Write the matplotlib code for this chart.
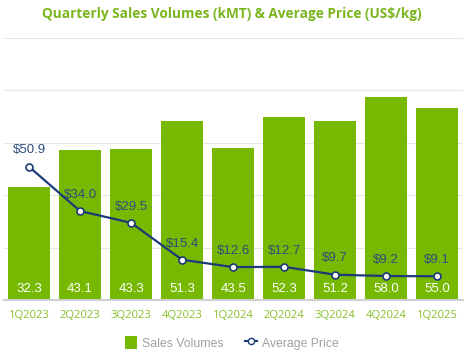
import matplotlib.pyplot as plt
from matplotlib.lines import Line2D
from matplotlib.patches import Patch

quarters = ["1Q2023", "2Q2023", "3Q2023", "4Q2023", "1Q2024",
            "2Q2024", "3Q2024", "4Q2024", "1Q2025"]
sales_volumes = [32.3, 43.1, 43.3, 51.3, 43.5, 52.3, 51.2, 58.0, 55.0]
average_price = [50.9, 34.0, 29.5, 15.4, 12.6, 12.7, 9.7, 9.2, 9.1]

verde = "#76b900"
azul = "#1d3a78"
cinza = "#a0a0a0"

fig = plt.figure(figsize=(4.73, 3.59), dpi=100)
ax = fig.add_axes([0.0074, 0.164, 0.971, 0.730])
ax2 = ax.twinx()

x = range(len(quarters))
ax.bar(x, sales_volumes, width=0.82, color=verde, zorder=2)
for i, v in enumerate(sales_volumes):
    ax.text(i, 3.2, f"{v:.1f}", ha="center", va="center", color="white",
            fontsize=9.5, family="Liberation Sans", zorder=3)

ax.set_xlim(-0.5, len(quarters) - 0.5)
ax.set_ylim(0, 75)
ax.set_yticks([0, 15, 30, 45, 60, 75])
ax.yaxis.grid(True, color="#e6e6e6", linewidth=0.8, zorder=0)
ax.set_axisbelow(True)
ax.tick_params(axis="y", left=False, labelleft=False)
ax.tick_params(axis="x", length=0, pad=7, labelsize=8.1, labelcolor="#86bf2a")
ax.set_xticks(list(x))
ax.set_xticklabels(quarters, family="Open Sans")
for s in ["top", "right", "left"]:
    ax.spines[s].set_visible(False)
ax.spines["bottom"].set_color("#cfcfcf")
ax.spines["bottom"].set_linewidth(1.5)

ax2.plot(x, average_price, color=azul, linewidth=1.6, marker="o",
         markersize=5, markerfacecolor="white", markeredgecolor=azul,
         markeredgewidth=1.2, zorder=4)
for i, p in enumerate(average_price):
    ax2.text(i, p + 6.2, f"${p:.1f}", ha="center", va="center", color="#2c4d7c",
             fontsize=9.5, family="Liberation Sans")
ax2.set_ylim(0, 100)
ax2.axis("off")

fig.text(0.49, 0.962, "Quarterly Sales Volumes (kMT) & Average Price (US$/kg)",
         ha="center", va="center", color="#7ab51d", fontsize=9.8,
         fontweight="bold", family="Open Sans")

# legenda
handles = [Patch(facecolor=verde, edgecolor="none"),
           Line2D([0], [0], color=azul, marker="o", markersize=4.5,
                  markerfacecolor="white", markeredgecolor=azul, linewidth=1.5)]
leg = fig.legend(handles, ["Sales Volumes", "Average Price"], loc="center",
                 bbox_to_anchor=(0.49, 0.045), ncol=2, frameon=False,
                 prop={"family": "Liberation Sans", "size": 8.8},
                 handlelength=1.0, handleheight=1.3, columnspacing=1.8,
                 handletextpad=0.4)
for t in leg.get_texts():
    t.set_color(cinza)

fig.savefig("out.png", dpi=100)
